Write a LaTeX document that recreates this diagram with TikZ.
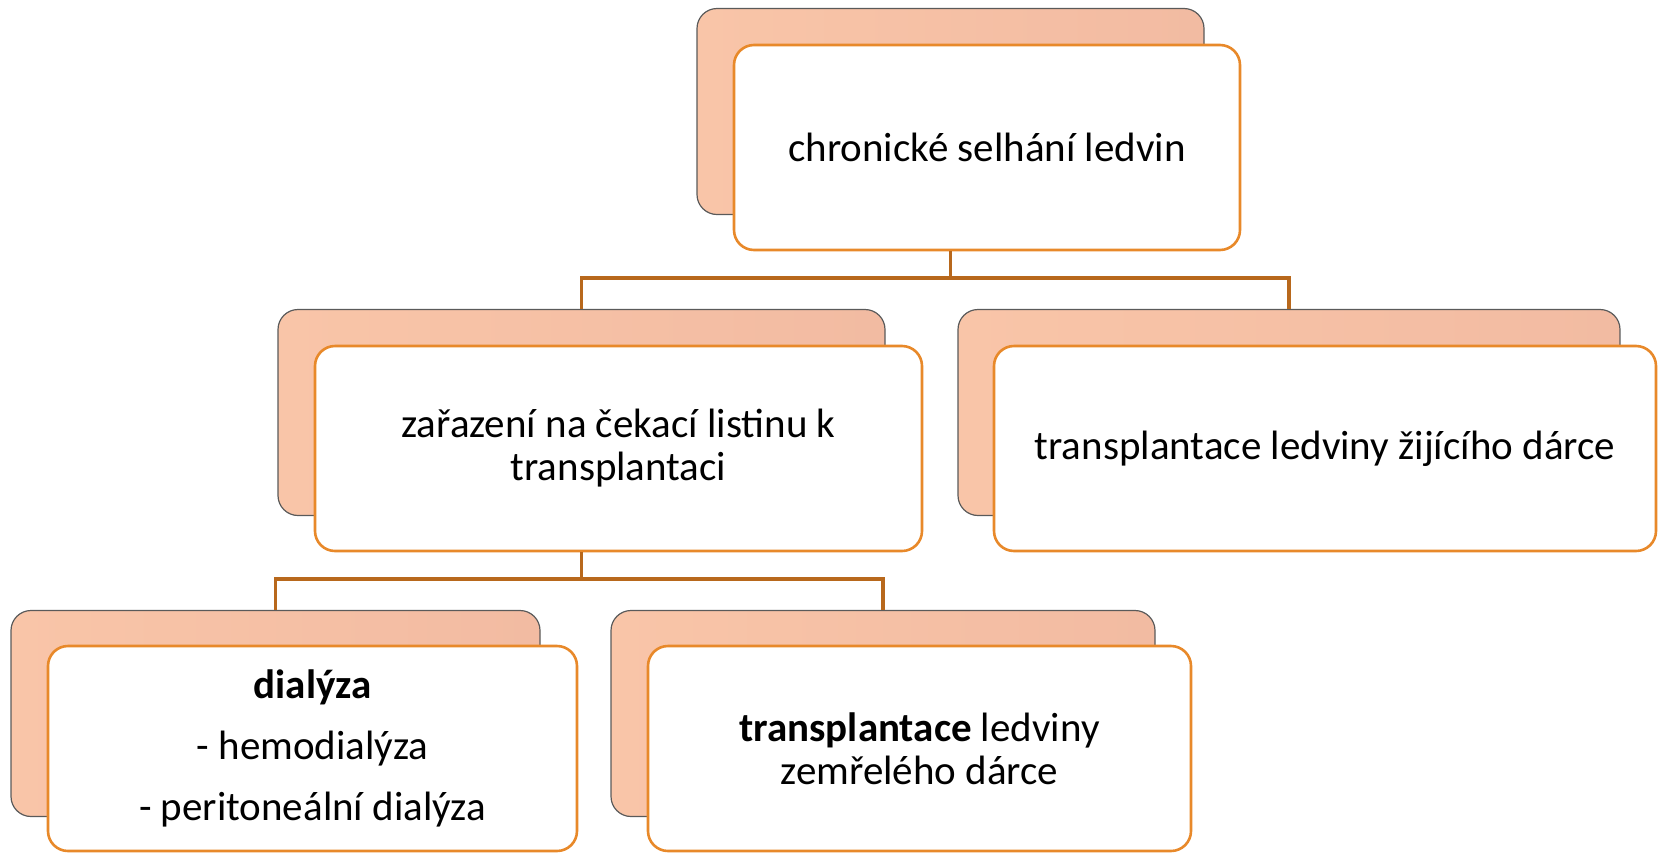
\documentclass[tikz,border=0pt]{standalone}
\usepackage{fontspec}
\setmainfont{Carlito}
\definecolor{backA}{HTML}{F9C5A8}
\definecolor{backB}{HTML}{F2BBA2}
\definecolor{backline}{HTML}{5A5A5A}
\definecolor{frontline}{HTML}{E8892A}
\definecolor{connline}{HTML}{B8681C}
\tikzset{
  backbox/.style={rounded corners=20pt, draw=backline, line width=1.2pt,
    left color=backA, right color=backB, minimum height=206pt, inner sep=0pt},
  frontbox/.style={rounded corners=20pt, draw=frontline, line width=2.6pt,
    fill=white, minimum height=205pt, inner sep=0pt, align=center,
    font=\fontsize{41}{43}\selectfont},
  conn/.style={draw=connline, line width=3.5pt}
}
\begin{document}
\begin{tikzpicture}[x=1pt,y=-1pt]
\useasboundingbox (0,0) rectangle (1658,852);
% top
\node[backbox, minimum width=507pt] (tb) at (950.5,111.5) {};
\node[frontbox, minimum width=506pt] (tf) at (987,147.5) {chronické selhání ledvin};
% middle left
\node[backbox, minimum width=607pt] (mlb) at (581.5,412.5) {};
\node[frontbox, minimum width=607pt] (mlf) at (618.5,448.5) {zařazení na čekací listinu k\\transplantaci};
% middle right
\node[backbox, minimum width=662pt] (mrb) at (1289,412.5) {};
\node[frontbox, minimum width=662pt] (mrf) at (1325,448.5) {transplantace ledviny žijícího dárce};
% bottom left
\node[backbox, minimum width=529pt] (blb) at (275.5,713.5) {};
\node[frontbox, minimum width=529pt] (blf) at (312.5,748.5) {\textbf{dialýza}\\[18pt]- hemodialýza\\[18pt]- peritoneální dialýza};
% bottom middle
\node[backbox, minimum width=544pt] (bmb) at (883,713.5) {};
\node[frontbox, minimum width=543pt] (bmf) at (919.5,748.5) {\textbf{transplantace} ledviny\\zemřelého dárce};
% connectors
\coordinate (j1) at (950.5,278);
\coordinate (j2) at (581.5,579);
\draw[conn] (tf.south -| tb.center) -- (j1);
\draw[conn] (mlb.north) |- (j1) -| (mrb.north);
\draw[conn] (mlf.south -| mlb.center) -- (j2);
\draw[conn] (blb.north) |- (j2) -| (bmb.north);
\end{tikzpicture}
\end{document}
